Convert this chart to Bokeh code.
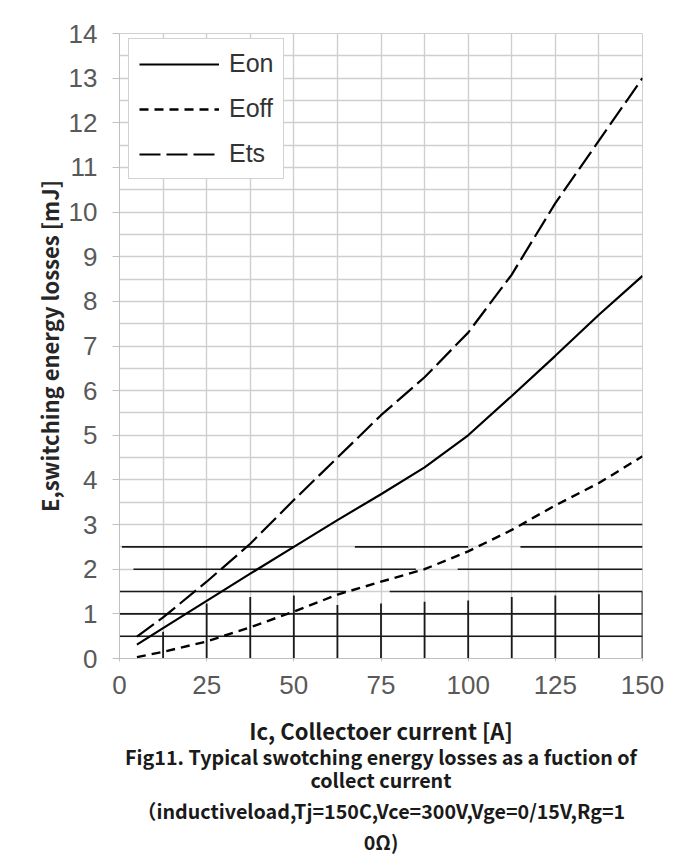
from bokeh.plotting import figure
from bokeh.models import (FixedTicker, Legend, LegendItem, Range1d, Title)
from bokeh.embed import file_html
from bokeh.resources import INLINE

# ---- data ----
ic = [5, 12.5, 25, 37.5, 50, 62.5, 75, 87.5, 100, 112.5, 125, 137.5, 150]
eon = [0.31, 0.68, 1.29, 1.9, 2.5, 3.1, 3.68, 4.28, 5.0, 5.88, 6.78, 7.7, 8.57]
eoff = [0.03, 0.15, 0.38, 0.7, 1.05, 1.43, 1.72, 2.0, 2.4, 2.88, 3.43, 3.93, 4.53]
ets = [0.49, 0.92, 1.72, 2.57, 3.55, 4.5, 5.45, 6.3, 7.3, 8.6, 10.2, 11.6, 13.0]

series_names = ["Eon", "Eoff", "Ets"]
x_ticks = [0, 25, 50, 75, 100, 125, 150]
x_minor = [12.5, 37.5, 62.5, 87.5, 112.5, 137.5]
y_ticks = list(range(0, 15))
y_minor = [i + 0.5 for i in range(0, 14)]

# dark scan-grid remnants in the lower part of the reference
dark_h_y = [0.5, 1.0, 1.5, 1.5, 2.0, 2.0, 2.5, 2.5, 2.5, 3.0]
dark_h_x0 = [0, 0, 0, 77.5, 4, 97, 0.7, 67.5, 115, 115.3]
dark_h_x1 = [150, 150, 65, 150, 85, 150, 50, 100, 150, 150]
dark_v_x = [12.5, 25, 37.5, 50, 62.5, 75, 87.5, 100, 112.5, 125, 137.5, 150]
dark_v_top = [0.6, 1.23, 1.38, 1.41, 1.2, 1.23, 1.27, 1.3, 1.38, 1.41, 1.44, 1.5]
dark_v_bottom = [0] * len(dark_v_x)

y_label = "E,switching energy losses [mJ]"
x_label = "Ic, Collectoer current [A]"
caption = ["Fig11. Typical swotching energy losses as a fuction of",
           "collect current",
           "\uff08inductiveload,Tj=150C,Vce=300V,Vge=0/15V,Rg=1",
           "0\u03a9)"]
caption_standoff = [-17, 0, 0, 0]

TICK_FONT = "Liberation Sans"
BOLD_FONT = "Noto Sans CJK SC"

p = figure(frame_width=523, frame_height=625, output_backend="svg",
           toolbar_location=None, x_range=Range1d(0, 150), y_range=Range1d(0, 14),
           min_border_left=119, min_border_right=38, min_border_top=33,
           min_border_bottom=150)
p.outline_line_color = "#cfcfcf"
p.background_fill_color = "white"
p.border_fill_color = "white"

# grids
p.xaxis.ticker = FixedTicker(ticks=x_ticks, minor_ticks=x_minor)
p.yaxis.ticker = FixedTicker(ticks=y_ticks, minor_ticks=y_minor)
for g in (p.xgrid, p.ygrid):
    g.grid_line_color = "#cfcfcf"
    g.grid_line_width = 1.4
    g.minor_grid_line_color = "#cfcfcf"
    g.minor_grid_line_width = 1.4

# axes
for ax in (p.xaxis, p.yaxis):
    ax.axis_line_color = "#c0c0c0"
    ax.major_tick_line_color = "#c0c0c0"
    ax.minor_tick_line_color = None
    ax.major_tick_in = 0
    ax.major_label_text_font = TICK_FONT
    ax.major_label_text_font_size = "26px"
    ax.major_label_text_color = "#595959"
p.yaxis.major_tick_out = 7
p.yaxis.major_label_standoff = 15
p.xaxis.major_tick_out = 3
p.xaxis.major_label_standoff = 13

p.yaxis.axis_label = y_label
p.yaxis.axis_label_text_font = BOLD_FONT
p.yaxis.axis_label_text_font_style = "bold"
p.yaxis.axis_label_text_font_size = "22px"
p.yaxis.axis_label_text_color = "#262626"
p.yaxis.axis_label_standoff = 1

p.xaxis.axis_label = x_label
p.xaxis.axis_label_text_font = BOLD_FONT
p.xaxis.axis_label_text_font_style = "bold"
p.xaxis.axis_label_text_font_size = "22px"
p.xaxis.axis_label_text_color = "#1a1a1a"
p.xaxis.axis_label_standoff = 17

for line, so in zip(caption, caption_standoff):
    p.add_layout(Title(text=line, align="center",
                       text_font=BOLD_FONT, text_font_style="bold",
                       text_font_size="19.7px", text_color="#1a1a1a",
                       standoff=so), "below")

# scan-grid remnants
p.segment(x0=dark_h_x0, y0=dark_h_y, x1=dark_h_x1, y1=dark_h_y,
          line_color="#1a1a1a", line_width=1.6)
p.segment(x0=dark_v_x, y0=dark_v_bottom, x1=dark_v_x, y1=dark_v_top,
          line_color="#1a1a1a", line_width=1.8)

# curves
r_on = p.line(ic, eon, line_color="black", line_width=2.2)
r_off = p.line(ic, eoff, line_color="black", line_width=2.4, line_dash="9 6")
r_ts = p.line(ic, ets, line_color="black", line_width=2.2, line_dash="21 6")

legend = Legend(items=[LegendItem(label=series_names[0], renderers=[r_on]),
                       LegendItem(label=series_names[1], renderers=[r_off]),
                       LegendItem(label=series_names[2], renderers=[r_ts])],
                location=(9, 479))
legend.label_text_font = TICK_FONT
legend.label_text_font_size = "25px"
legend.label_text_color = "#333333"
legend.glyph_width = 80
legend.glyph_height = 24
legend.label_height = 24
legend.label_standoff = 10
legend.spacing = 16
legend.padding = 10
legend.margin = 0
legend.border_line_color = "#a6a6a6"
legend.border_line_width = 1.3
legend.background_fill_color = "white"
legend.background_fill_alpha = 1
p.add_layout(legend, "center")

open("out.html", "w").write(file_html(p, INLINE))
